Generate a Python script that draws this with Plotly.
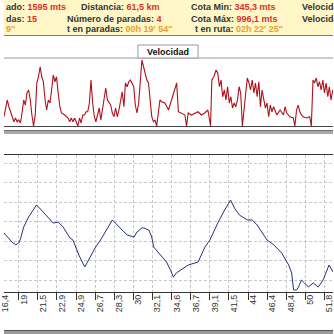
import plotly.graph_objects as go

W = H = 334

# ---------------- data ----------------
# speed trace (sample position along the ride, km/h)
vel_muestra = [0, 3.3, 5, 6.7, 8.3, 10, 11.7, 13.3, 15, 16.7, 18.3, 20, 21.7, 23.3, 25, 26.7, 28.3, 30, 31.7,
               33.3, 35, 36.7, 38.3, 40, 41.7, 43.3, 45, 46.7, 48.3, 50, 51.7, 53.3, 55, 56.7, 58.3, 61.7, 65,
               66.7, 68.3, 70, 71.7, 73.3, 75, 76.7, 78.3, 80, 81.7, 83.3, 85, 86.7, 88.3, 90, 91.7, 93.3, 95,
               96.7, 98.3, 100, 101.7, 103.3, 105, 106.7, 108.3, 110, 111.7, 113.3, 115, 116.7, 118.3, 120,
               121.7, 123.3, 125, 126.7, 128.3, 130, 131.7, 133.3, 135, 136.7, 138.3, 140, 141.7, 143.3, 145,
               146.7, 148.3, 150, 151.7, 153.3, 155, 156.7, 158.3, 160, 163.3, 167, 170.3, 173.7, 175.3, 177,
               180.3, 183.7, 185.3, 187, 190.3, 193.7, 197, 200.3, 203.7, 207, 209.7, 211, 213, 215.3, 217,
               218.7, 220.3, 222, 223.7, 225.3, 227, 228.7, 230.3, 232, 233.7, 235.3, 237, 238.7, 240.3, 242,
               243.7, 245.3, 247, 248.7, 250.3, 252, 253.7, 255.3, 257, 258.7, 260.3, 262, 263.7, 265.3, 267,
               268.7, 270.3, 272, 273.7, 277, 280.3, 283.7, 285.3, 287, 290.3, 293.7, 295.3, 297, 298.7, 300.3,
               302, 303.7, 307, 310.3, 312, 313.7, 315.3, 317, 318.7, 320.3, 322, 323.7, 325.3, 327, 328.7,
               330.3, 332, 333.7]
vel_kmh = [7.4, 20.8, 15.4, 11.4, 7.4, 3.4, 6.4, 3.4, 4.8, 2.4, 10.4, 20.8, 16.8, 26.4, 28.8, 20.8, 8.8, 0, 8.8,
           34.4, 39.4, 47.4, 39.4, 35.4, 20.8, 12.8, 20.8, 18.4, 28.8, 40.8, 35.4, 39.4, 26.4, 15.4, 10.4, 8.8, 6.4,
           3.4, 6.4, 3.4, 6.4, 3.4, 0, 6.4, 2.4, 8.8, 8.8, 11.4, 11.4, 18.4, 36.8, 18.4, 7.4, 3.4, 8.8,
           14.4, 4.8, 12.8, 20.8, 30.4, 20.8, 18.4, 16.8, 10.4, 7.4, 14.4, 7.4, 12.8, 20.8, 27.4,
           15.4, 34.4, 31.4, 35.4, 36.8, 34.4, 31.4, 16.8, 10.4, 18.4, 39.4, 52.8, 47.4, 42.4, 36.8,
           34.4, 18.4, 7.4, 3.4, 4.8, 0, 11.4, 20.8, 19.4, 18.4, 12.8, 20.8, 28.8, 34.4, 11.4,
           10.4, 8.8, 0, 10.4, 8.8, 10.4, 11.4, 8.8, 10.4, 12.8, 0, 36.8, 39.4, 44.8, 42.4,
           31.4, 36.8, 23.4, 28.8, 20.8, 31.4, 18.4, 23.4, 14.4, 18.4, 15.4, 20.8, 31.4, 26.4, 0,
           12.8, 28.8, 38.4, 34.4, 28.8, 36.8, 26.4, 34.4, 23.4, 35.4, 15.4, 28.8, 20.8, 14.4, 18.4,
           7.4, 16.8, 11.4, 15.4, 8.8, 12.8, 8.8, 15.4, 10.4, 7.4, 6.4, 0, 12.8, 16.8, 11.4,
           8.8, 7.4, 6.4, 7.4, 0, 36.8, 34.4, 38.4, 31.4, 35.4, 28.8, 36.8, 26.4, 34.4, 23.4,
           31.4, 20.8, 28.8]

# elevation trace (m)
alt_muestra = [0, 4, 8, 12, 15, 17, 20, 25, 30, 33, 37, 43, 50, 55, 60, 67, 70, 76, 82, 87, 93, 98, 103, 107,
               110, 114, 118, 125, 132, 135, 140, 142, 147, 150, 152, 157, 165, 169, 172, 175, 179, 187, 197,
               204, 209, 217, 224, 230, 234, 239, 247, 252, 257, 264, 267, 274, 282, 289, 292, 294, 297, 299,
               302, 305, 309, 314, 319, 324, 330, 334]
alt_m = [641, 615, 595, 580, 590, 615, 672, 723, 764, 785, 764, 733, 692, 697, 672, 615, 605, 528, 467, 513,
         569, 605, 651, 687, 708, 687, 667, 631, 620, 646, 667, 667, 656, 620, 569, 538, 492, 451, 415, 436,
         451, 477, 492, 569, 605, 692, 759, 810, 769, 733, 708, 708, 682, 631, 605, 580, 538, 477, 436, 349,
         349, 364, 400, 385, 364, 385, 364, 400, 477, 441]

dist_labels = ["16,4", "19", "21,5", "22,9", "24,9", "26,7", "28,3", "30", "32,1", "34,6", "36,7", "39,1",
               "41,5", "44", "46,4", "48,4", "50", "51,8"]
alt_grid = [400, 500, 600, 700, 800, 900, 1000]

tick0, dtick = -4.4, 19.4
tick_pos = [tick0 + dtick * i for i in range(len(dist_labels))]
label_pos = [t + 5 for t in tick_pos]


def py(y):
    return 1 - y / H


def px(x):
    return x / W


fig = go.Figure()
fig.add_trace(go.Scatter(x=vel_muestra, y=vel_kmh, mode="lines", line=dict(color="#B0101A", width=1.1),
                         xaxis="x", yaxis="y", hoverinfo="skip"))
fig.add_trace(go.Scatter(x=alt_muestra, y=alt_m, mode="lines", line=dict(color="#26307A", width=1),
                         xaxis="x2", yaxis="y2", hoverinfo="skip"))
fig.add_trace(go.Scatter(x=[label_pos[1]], y=[alt_grid[0]], mode="markers", marker=dict(opacity=0),
                         xaxis="x3", yaxis="y2", hoverinfo="skip"))

shapes = [
    dict(type="rect", xref="paper", yref="paper", x0=0, x1=1, y0=py(35), y1=1,
         fillcolor="#FFF7C8", line=dict(width=0), layer="below"),
    dict(type="line", xref="paper", yref="paper", x0=0, x1=1, y0=py(35.5), y1=py(35.5),
         line=dict(color="#7A7A7A", width=1)),
    dict(type="line", xref="paper", yref="paper", x0=0, x1=1, y0=py(58), y1=py(58),
         line=dict(color="#9A9A9A", width=1)),
    dict(type="rect", xref="paper", yref="paper", x0=px(136), x1=px(197), y0=py(58), y1=py(45),
         fillcolor="white", line=dict(color="#9A9A9A", width=1)),
    dict(type="line", xref="paper", yref="paper", x0=0, x1=1, y0=py(126.5), y1=py(126.5),
         line=dict(color="#444444", width=1)),
    dict(type="rect", xref="paper", yref="paper", x0=0, x1=1, y0=py(134), y1=py(130.5),
         fillcolor="#A8A8A8", line=dict(width=0)),
    dict(type="line", xref="paper", yref="paper", x0=0, x1=1, y0=py(130.5), y1=py(130.5),
         line=dict(color="#707070", width=1)),
    dict(type="rect", xref="paper", yref="paper", x0=0, x1=1, y0=0, y1=py(330.5),
         fillcolor="#9A9A9A", line=dict(width=0)),
    dict(type="line", xref="paper", yref="paper", x0=0, x1=1, y0=py(330.5), y1=py(330.5),
         line=dict(color="#555555", width=1)),
]

lab = "#333333"
red = "#D8322A"
ora = "#E8A030"
F = dict(family="Liberation Sans, Arial, sans-serif", size=9, color=lab)


def s(t, c):
    return f"<span style='color:{c}'>{t}</span>"


header = [
    (0, 6.7, "left", "<b>ado: " + s("1595 mts", red) + "</b>"),
    (0, 19, "left", "<b>das: " + s("15", red) + "</b>"),
    (0, 29.5, "left", "<b>" + s("9''", ora) + "</b>"),
    (76, 6.7, "left", "<b>Distancia: " + s("61,5 km", red) + "</b>"),
    (62, 19, "left", "<b>Número de paradas: " + s("4", red) + "</b>"),
    (62, 29.5, "left", "<b>t en paradas: " + s("00h 19' 54''", ora) + "</b>"),
    (188, 6.7, "left", "<b>Cota Min: " + s("345,3 mts", red) + "</b>"),
    (188, 19, "left", "<b>Cota Máx: " + s("996,1 mts", red) + "</b>"),
    (192, 29.5, "left", "<b>t en ruta: " + s("02h 22' 25''", ora) + "</b>"),
    (300, 6.7, "left", "<b>Velocida</b>"),
    (300, 19, "left", "<b>Velocida</b>"),
]
annotations = [dict(x=px(x), y=py(y), xref="paper", yref="paper", xanchor=a, yanchor="middle",
                    text=t, showarrow=False, font=F) for x, y, a, t in header]
annotations.append(dict(x=px(166.5), y=py(51.5), xref="paper", yref="paper", xanchor="center",
                        yanchor="middle", text="<b>Velocidad</b>", showarrow=False,
                        font=dict(family="Liberation Sans, Arial, sans-serif", size=9, color="#111111")))

fig.update_layout(
    width=W, height=H, autosize=False, margin=dict(l=0, r=0, t=0, b=0, pad=0),
    paper_bgcolor="white", plot_bgcolor="rgba(0,0,0,0)", showlegend=False,
    shapes=shapes, annotations=annotations,
    xaxis=dict(domain=[0, 1], range=[0, W], visible=False, anchor="y"),
    yaxis=dict(domain=[py(126), py(58)], range=[0, 54.4], visible=False, anchor="x"),
    xaxis2=dict(domain=[0, 1], range=[0, W], anchor="y2", tickmode="array", tickvals=tick_pos,
                showticklabels=False, ticks="outside", ticklen=7, tickcolor="#333333", tickwidth=1,
                showgrid=True, gridcolor="#C8C8C8", griddash="3px,2px", gridwidth=1,
                showline=True, linecolor="#333333", linewidth=1, mirror=True, zeroline=False),
    xaxis3=dict(range=[0, W], overlaying="x2", anchor="y2", side="bottom", tickmode="array",
                tickvals=label_pos, ticktext=dist_labels, tickangle=-90, ticks="", showgrid=False,
                showline=False, zeroline=False, ticklabeloverflow="allow",
                tickfont=dict(family="Liberation Sans, Arial, sans-serif", size=9, color="#333333")),
    yaxis2=dict(domain=[py(292), py(155)], range=[338.5, 1041], anchor="x2", tickmode="array",
                tickvals=alt_grid, showticklabels=False, ticks="", showgrid=True, gridcolor="#C8C8C8",
                griddash="3px,2px", gridwidth=1, zeroline=False, showline=False),
)

fig.write_html("out.html", config=dict(displayModeBar=False, staticPlot=True))
